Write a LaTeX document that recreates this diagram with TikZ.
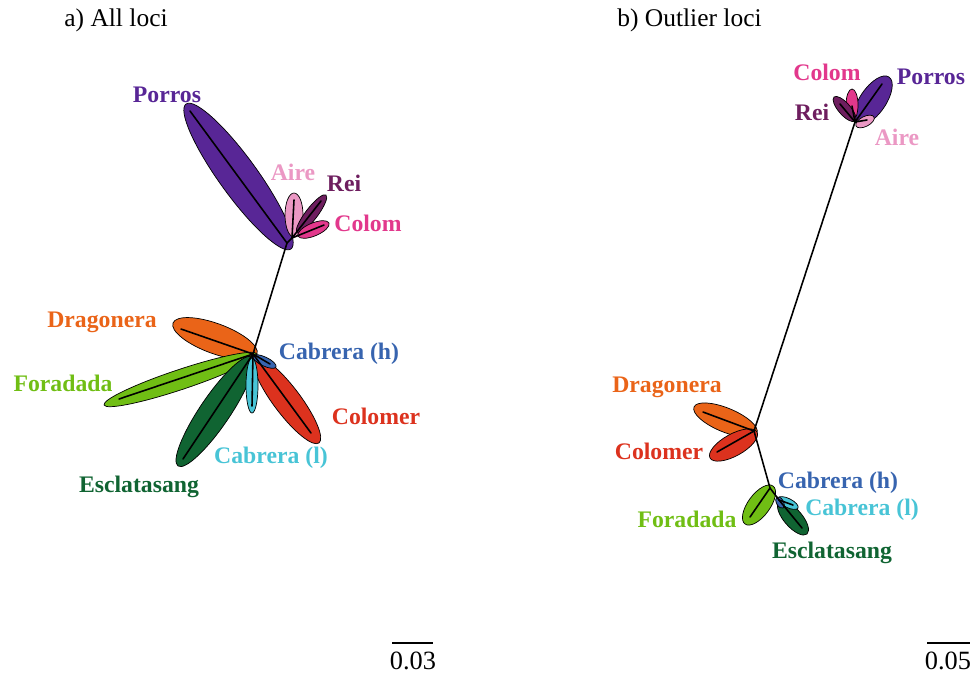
\documentclass[tikz,border=0pt]{standalone}
\usepackage{fontspec}
\setmainfont{Liberation Serif}
\usepackage{tikz}
\usetikzlibrary{shapes,calc}
\tikzstyle{leaf}=[ellipse, draw, inner sep=0pt, outer sep=0pt, line width=0.4pt]
\tikzstyle{branch}=[line width=0.9pt, color=black, line cap=round]
\tikzstyle{lab}=[font=\fontsize{13.5}{15}\selectfont\bfseries, inner sep=0pt]
\tikzstyle{title}=[font=\fontsize{14.5}{16}\selectfont, anchor=west, inner sep=0pt]
\definecolor{porros}{RGB}{88,38,150}
\definecolor{aire}{RGB}{235,152,196}
\definecolor{rei}{RGB}{110,30,95}
\definecolor{colom}{RGB}{226,56,140}
\definecolor{dragonera}{RGB}{234,100,24}
\definecolor{cabrerah}{RGB}{55,100,175}
\definecolor{foradada}{RGB}{112,190,20}
\definecolor{colomer}{RGB}{220,50,30}
\definecolor{cabreral}{RGB}{72,196,214}
\definecolor{esclatasang}{RGB}{16,100,50}

% one ellipse between two end points: name, colour, end, end, width (px)
\newcommand{\drawleaf}[5]{%
  \path let \p1=(#3), \p2=(#4), \n1={atan2(\y2-\y1,\x2-\x1)},
    \n2={veclen(\x2-\x1,\y2-\y1)} in
    ($(#3)!.5!(#4)$) node[leaf, fill=#2, rotate=\n1, minimum width=\n2,
    minimum height=#5*0.02cm] (#1) {};}

\begin{document}
\begin{tikzpicture}[x=0.02cm, y=-0.02cm]
  \useasboundingbox (0,0) rectangle (979,673);

  % titles
  \node[title] (titA) at (64,20) {a) All loci};
  \node[title] (titB) at (617,20) {b) Outlier loci};

  % ---- a) all loci ----
  \coordinate (upA) at (287,243);
  \coordinate (upA2) at (292,238);
  \coordinate (loA) at (253,354);

  % draw the ellipses
  \drawleaf{porA}{porros}{186,104}{291,249}{38}
  \drawleaf{aireA}{aire}{294,193}{294,237}{18}
  \drawleaf{reiA}{rei}{326,195}{297,233}{12}
  \drawleaf{colomA}{colom}{298,236}{329,223}{13}
  \drawleaf{dragA}{dragonera}{173,323}{257,354}{30}
  \drawleaf{foraA}{foradada}{104,405}{257,354}{20}
  \drawleaf{esclA}{esclatasang}{178,466}{252,357}{30}
  \drawleaf{colmrA}{colomer}{255,358}{319,443}{27}
  \drawleaf{cablA}{cabreral}{252,358}{252,413}{12}
  \drawleaf{cabhA}{cabrerah}{253,356}{276,367}{9}

  % tips of the branches
  \foreach \n/\x/\y in {porTA/190/111, aireTA/294/200, reiTA/321/201,
    colomTA/324/225, dragTA/181/329, foraTA/119/399, esclTA/183/459,
    colmrTA/311/433, cablTA/252/406, cabhTA/270/364}
    \coordinate (\n) at (\x,\y);

  \draw[branch] (loA) -- (upA) -- (upA2);
  \foreach \t in {porTA} \draw[branch] (upA) -- (\t);
  \foreach \t in {aireTA, reiTA, colomTA} \draw[branch] (upA2) -- (\t);
  \foreach \t in {dragTA, foraTA, esclTA, colmrTA, cablTA, cabhTA}
    \draw[branch] (loA) -- (\t);

  % ---- b) outlier loci ----
  \coordinate (upB) at (855,122);
  \coordinate (midB) at (754,431);
  \coordinate (loB) at (770,488);
  \coordinate (loB2) at (779,500);

  \drawleaf{porB}{porros}{857,124}{889,77}{26}
  \drawleaf{colomB}{colom}{852,89}{852,121}{12}
  \drawleaf{reiB}{rei}{834,97}{855,121}{12}
  \drawleaf{aireB}{aire}{856,126}{874,117}{10}
  \drawleaf{dragB}{dragonera}{694,407}{757,433}{24}
  \drawleaf{colmrB}{colomer}{710,458}{757,432}{22}
  \drawleaf{foraB}{foradada}{745,524}{773,486}{22}
  \drawleaf{esclB}{esclatasang}{779,502}{807,534}{18}
  \drawleaf{cablB}{cabreral}{778,498}{798,508}{9}
  \drawleaf{cabhB}{cabrerah}{777,497}{783,508}{7}

  \foreach \n/\x/\y in {porTB/882/84, colomTB/852/106, reiTB/840/104,
    aireTB/867/120, dragTB/703/412, colmrTB/717/452, foraTB/750/517,
    esclTB/802/528, cablTB/793/505}
    \coordinate (\n) at (\x,\y);

  \draw[branch] (upB) -- (midB) -- (loB) -- (loB2);
  \foreach \t in {porTB, colomTB, reiTB, aireTB} \draw[branch] (upB) -- (\t);
  \foreach \t in {dragTB, colmrTB} \draw[branch] (midB) -- (\t);
  \draw[branch] (loB) -- (foraTB);
  \foreach \t in {esclTB, cablTB} \draw[branch] (loB2) -- (\t);

  % labels
  \foreach \n/\txt/\c/\x/\y in {
    lPorA/Porros/porros/167/95, lAireA/Aire/aire/293/172, lReiA/Rei/rei/344/183,
    lColomA/Colom/colom/368/223, lDragA/Dragonera/dragonera/102/322,
    lCabhA/Cabrera (h)/cabrerah/339/354, lForaA/Foradada/foradada/63/383,
    lColmrA/Colomer/colomer/376/416, lCablA/Cabrera (l)/cabreral/271/458,
    lEsclA/Esclatasang/esclatasang/139/487,
    lColomB/Colom/colom/827/72, lPorB/Porros/porros/931/77, lReiB/Rei/rei/812/112,
    lAireB/Aire/aire/897/137, lDragB/Dragonera/dragonera/667/387,
    lColmrB/Colomer/colomer/659/451, lCabhB/Cabrera (h)/cabrerah/838/483,
    lCablB/Cabrera (l)/cabreral/862/510, lForaB/Foradada/foradada/687/519,
    lEsclB/Esclatasang/esclatasang/832/553}
    \node[lab, text=\c] (\n) at (\x,\y) {\txt};

  % scale bars
  \coordinate (sa1) at (392,643);
  \coordinate (sa2) at (433,643);
  \coordinate (sb1) at (927,643);
  \coordinate (sb2) at (970,643);
  \draw[line width=0.7pt] (sa1) -- (sa2);
  \draw[line width=0.7pt] (sb1) -- (sb2);
  \node[font=\fontsize{15}{17}\selectfont, inner sep=0pt] (scA) at (413,661) {0.03};
  \node[font=\fontsize{15}{17}\selectfont, inner sep=0pt] (scB) at (948,661) {0.05};
\end{tikzpicture}
\end{document}
